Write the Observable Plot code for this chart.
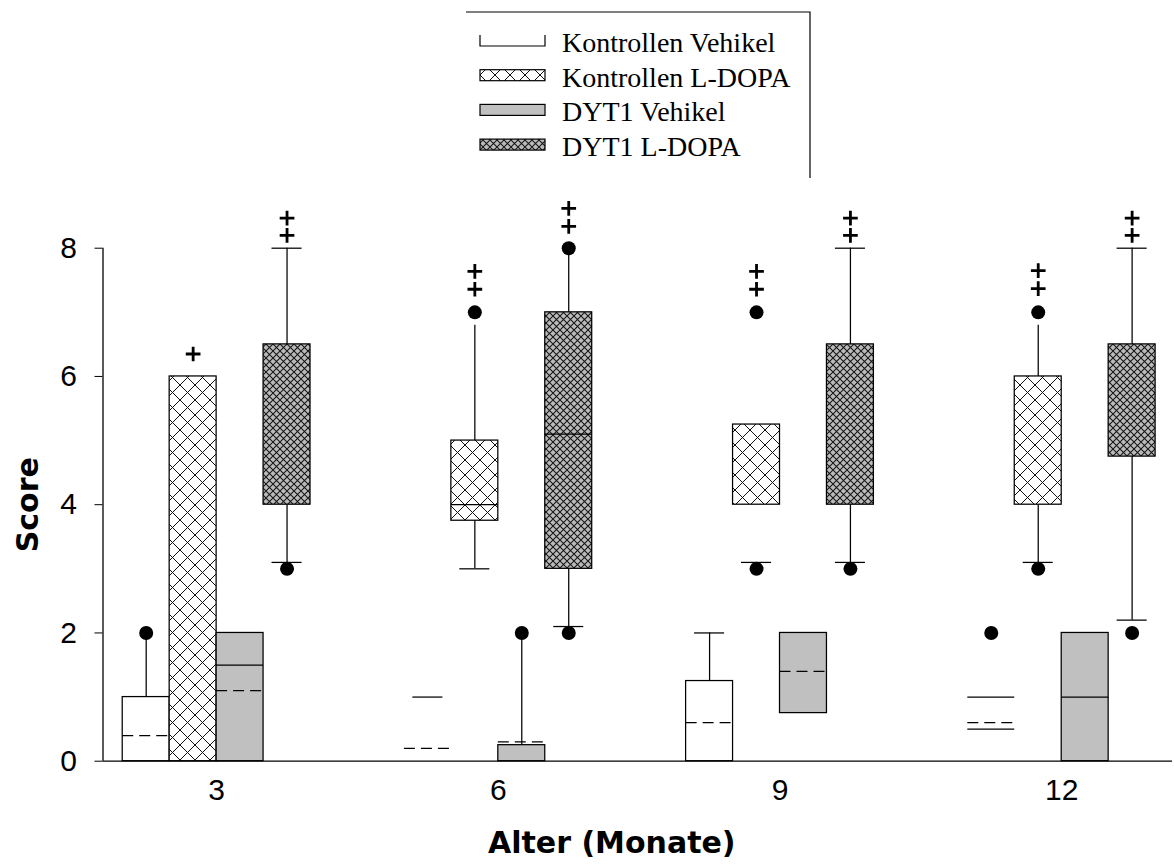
<!DOCTYPE html>
<html>
<head>
<meta charset="utf-8">
<script src="https://cdn.jsdelivr.net/npm/d3@7"></script>
<script src="https://cdn.jsdelivr.net/npm/@observablehq/plot@0.6"></script>
<style>
  body { margin: 0; background: #fff; }
  #chart { width: 1174px; height: 866px; background: #fff; }
  #chart svg { display: block; }
</style>
</head>
<body>
<div id="chart"></div>
<script>
// Dystonia score by age, four treatment groups per age
const ages = [3, 6, 9, 12];
const groups = ["Kontrollen Vehikel", "Kontrollen L-DOPA", "DYT1 Vehikel", "DYT1 L-DOPA"];
const yTicks = [0, 2, 4, 6, 8];

// 25th / 75th percentile box edges, rows = ages, columns = groups (null: no box)
const boxLow = [
  [0, 0, 0, 4],
  [null, 3.75, 0, 3],
  [0, 4, 0.75, 4],
  [null, 4, 0, 4.75]
];
const boxHigh = [
  [1, 6, 2, 6.5],
  [null, 5, 0.25, 7],
  [1.25, 5.25, 2, 6.5],
  [null, 6, 2, 6.5]
];

// solid lines across the box (median / quartile): [age, group index, value]
const medianLines = [
  [3, 2, 1.5],
  [6, 1, 4.0], [6, 3, 5.1],
  [12, 0, 1.0], [12, 0, 0.5], [12, 2, 1.0]
];

// dashed lines across the box (mean): [age, group index, value]
const meanLines = [
  [3, 0, 0.4], [3, 2, 1.1],
  [6, 0, 0.2], [6, 2, 0.3],
  [9, 0, 0.6], [9, 2, 1.4],
  [12, 0, 0.6]
];

// whisker segments: [age, group index, from, to]
const whiskers = [
  [3, 0, 1, 2], [3, 3, 6.5, 8], [3, 3, 4, 3.1],
  [6, 1, 5, 6.8], [6, 1, 3.75, 3], [6, 2, 0.25, 2], [6, 3, 7, 8], [6, 3, 3, 2.1],
  [9, 0, 1.25, 2], [9, 3, 6.5, 8], [9, 3, 4, 3.1],
  [12, 1, 6, 6.8], [12, 1, 4, 3.1], [12, 3, 6.5, 8], [12, 3, 4.75, 2.2]
];

// whisker caps (10th / 90th percentile): [age, group index, value]
const caps = [
  [3, 3, 8], [3, 3, 3.1],
  [6, 0, 1], [6, 1, 3], [6, 3, 2.1],
  [9, 0, 2], [9, 1, 3.1], [9, 3, 8], [9, 3, 3.1],
  [12, 1, 3.1], [12, 3, 8], [12, 3, 2.2]
];

// outliers: [age, group index, value]
const outliers = [
  [3, 0, 2], [3, 3, 3],
  [6, 1, 7], [6, 2, 2], [6, 3, 8], [6, 3, 2],
  [9, 1, 7], [9, 1, 3], [9, 3, 3],
  [12, 0, 2], [12, 1, 7], [12, 1, 3], [12, 3, 2]
];

// significance markers (+): [age, group index, value]
const pluses = [
  [3, 1, 6.35], [3, 3, 8.2], [3, 3, 8.47],
  [6, 1, 7.36], [6, 1, 7.64], [6, 3, 8.34], [6, 3, 8.62],
  [9, 1, 7.36], [9, 1, 7.64], [9, 3, 8.2], [9, 3, 8.47],
  [12, 1, 7.37], [12, 1, 7.65], [12, 3, 8.2], [12, 3, 8.47]
];

// layout and styling
const xDomain = [1.79, 13.18];
const groupOffset = [-0.75, -0.25, 0.25, 0.75];
const halfBox = 0.25;
const halfCap = 0.16;
const groupFill = ["#ffffff", "url(#hatch-kl)", "#c0c0c0", "url(#hatch-dl)"];
const ink = "#000";
const lineW = 1.25;
const titleFont = "'DejaVu Sans', Arial, sans-serif";

const cx = d => d[0] + groupOffset[d[1]];

const boxes = [];
ages.forEach((age, i) => groups.forEach((g, j) => {
  if (boxLow[i][j] != null) boxes.push({age, g: j, lo: boxLow[i][j], hi: boxHigh[i][j]});
}));

const chart = d3.select("#chart");

// legend (also holds the fill patterns used by the boxes)
const legendH = 190;
const legend = chart.append("svg").attr("width", 1174).attr("height", legendH);
const defs = legend.append("defs");

const pKL = defs.append("pattern").attr("id", "hatch-kl")
  .attr("patternUnits", "userSpaceOnUse").attr("width", 15).attr("height", 15);
pKL.append("rect").attr("width", 15).attr("height", 15).attr("fill", "#fff");
pKL.append("path").attr("d", "M-2,-2L17,17M17,-2L-2,17")
  .attr("stroke", "#111").attr("stroke-width", 1);

const pDL = defs.append("pattern").attr("id", "hatch-dl")
  .attr("patternUnits", "userSpaceOnUse").attr("width", 7).attr("height", 7);
pDL.append("rect").attr("width", 7).attr("height", 7).attr("fill", "#bababa");
pDL.append("path").attr("d", "M-1,-1L8,8M8,-1L-1,8")
  .attr("stroke", "#151515").attr("stroke-width", 1.05);

legend.append("path").attr("d", "M466,12H810V178")
  .attr("fill", "none").attr("stroke", ink).attr("stroke-width", 1.2);

groups.forEach((name, i) => {
  const base = 52 + i * 34.7;
  const top = base - 17, h = 11, x0 = 480, w = 65;
  if (i === 0) {
    legend.append("path").attr("d", `M${x0},${top}V${top + h}H${x0 + w}V${top}`)
      .attr("fill", "none").attr("stroke", ink).attr("stroke-width", 1.2);
  } else {
    legend.append("rect").attr("x", x0).attr("y", top).attr("width", w).attr("height", h)
      .attr("fill", groupFill[i]).attr("stroke", ink).attr("stroke-width", 1.2);
  }
  legend.append("text").attr("x", 562).attr("y", base)
    .attr("font-family", "'Liberation Serif', 'Times New Roman', serif")
    .attr("font-size", 28).attr("fill", ink).text(name);
});

// main plot
const plot = Plot.plot({
  width: 1174,
  height: 866 - legendH,
  marginTop: 57.7,
  marginBottom: 105.3,
  marginLeft: 102.5,
  marginRight: 2,
  style: {fontFamily: "'Liberation Sans', Arial, sans-serif", fontSize: "30px", color: ink, background: "#fff"},
  x: {domain: xDomain, ticks: ages, tickSize: 0, tickPadding: 17, label: null},
  y: {domain: [0, 8], ticks: yTicks, tickSize: 8, tickPadding: 18, label: null},
  color: {type: "identity"},
  marks: [
    Plot.rect(boxes, {
      x1: d => d.age + groupOffset[d.g] - halfBox,
      x2: d => d.age + groupOffset[d.g] + halfBox,
      y1: "lo", y2: "hi",
      fill: d => groupFill[d.g],
      stroke: ink, strokeWidth: lineW
    }),
    Plot.ruleY(medianLines, {
      y: d => d[2], x1: d => cx(d) - halfBox, x2: d => cx(d) + halfBox,
      stroke: ink, strokeWidth: lineW
    }),
    Plot.ruleY(meanLines, {
      y: d => d[2], x1: d => cx(d) - halfBox, x2: d => cx(d) + halfBox,
      stroke: ink, strokeWidth: lineW, strokeDasharray: "11,6"
    }),
    Plot.ruleX(whiskers, {
      x: cx, y1: d => d[2], y2: d => d[3],
      stroke: ink, strokeWidth: lineW
    }),
    Plot.ruleY(caps, {
      y: d => d[2], x1: d => cx(d) - halfCap, x2: d => cx(d) + halfCap,
      stroke: ink, strokeWidth: lineW
    }),
    Plot.dot(outliers, {x: cx, y: d => d[2], r: 7, fill: ink, stroke: null}),
    Plot.dot(pluses, {x: cx, y: d => d[2], symbol: "plus", r: 4.8, stroke: ink, strokeWidth: 2.8}),
    Plot.ruleY([0], {stroke: ink, strokeWidth: 1.3}),
    Plot.ruleX([xDomain[0]], {stroke: ink, strokeWidth: 1.3}),
    Plot.text(["Score"], {
      frameAnchor: "left", textAnchor: "middle", lineAnchor: "middle",
      rotate: -90, dx: -75,
      fontFamily: titleFont, fontSize: 30, fontWeight: "bold", fill: ink
    }),
    Plot.text(["Alter (Monate)"], {
      frameAnchor: "bottom", textAnchor: "middle", lineAnchor: "middle",
      dy: 82, dx: -26,
      fontFamily: titleFont, fontSize: 30, fontWeight: "bold", fill: ink
    })
  ]
});
chart.node().appendChild(plot);
</script>
</body>
</html>
